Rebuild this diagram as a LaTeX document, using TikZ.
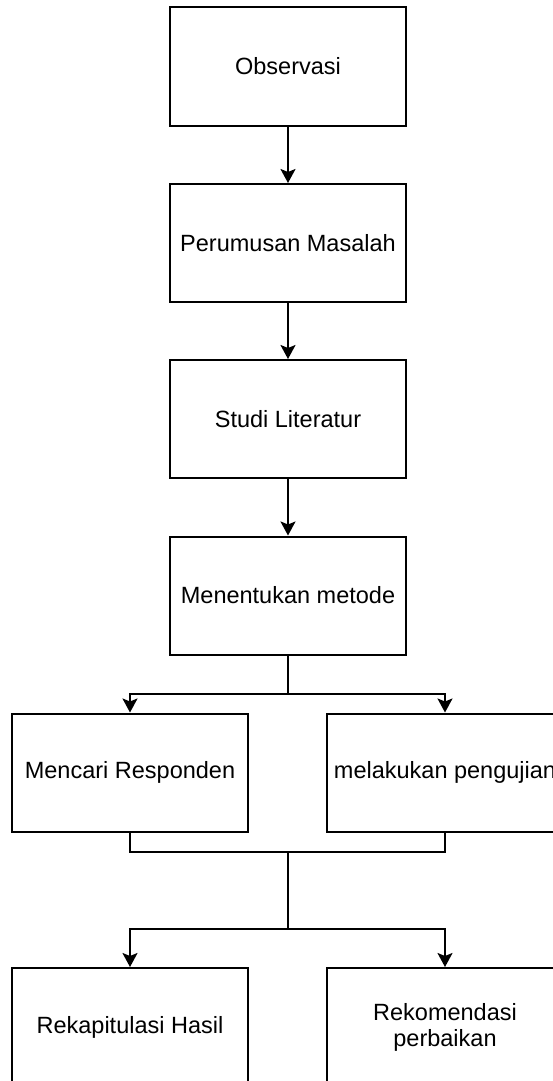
\documentclass[tikz,border=0pt]{standalone}
\usepackage{fontspec}
\setmainfont{Liberation Sans}
\usetikzlibrary{arrows.meta}
\begin{document}
\begin{tikzpicture}[x=1pt, y=-1pt, font=\fontsize{23.5}{26}\selectfont,
    >={Stealth[length=14pt, width=15pt, inset=3pt]}]
    \tikzset{
      blk/.style={draw, line width=2pt, minimum width=236pt,
                  minimum height=118pt, inner sep=2pt, align=center},
      lnk/.style={line width=2pt},
    }
    \useasboundingbox (0,0) rectangle (553,1081);
    \clip (0,0) rectangle (553,1081);

    \node[blk] (obs) at (288,66.5) {Observasi};
    \node[blk] (rum) at (288,243) {Perumusan Masalah};
    \node[blk] (lit) at (288,419) {Studi Literatur};
    \node[blk] (met) at (288,595.5) {Menentukan metode};

    \node[blk] (resp) at (130,772.5) {Mencari Responden};
    \node[blk] (uji)  at (445,772.5) {melakukan pengujian};
    \node[blk] (rekap) at (130,1027) {Rekapitulasi Hasil};
    \node[blk] (rekom) at (445,1027) {Rekomendasi\\perbaikan};

    \coordinate (split1) at (288,694);
    \coordinate (join)   at (288,852);
    \coordinate (split2) at (288,929);

    \draw[lnk,->] (obs) -- (rum);
    \draw[lnk,->] (rum) -- (lit);
    \draw[lnk,->] (lit) -- (met);

    \draw[lnk] (met.south) -- (split1);
    \draw[lnk,->] (split1) -| (resp.north);
    \draw[lnk,->] (split1) -| (uji.north);

    \draw[lnk] (resp.south) |- (join) -| (uji.south);
    \draw[lnk] (join) -- (split2);
    \draw[lnk,->] (split2) -| (rekap.north);
    \draw[lnk,->] (split2) -| (rekom.north);
  \end{tikzpicture}
\end{document}
